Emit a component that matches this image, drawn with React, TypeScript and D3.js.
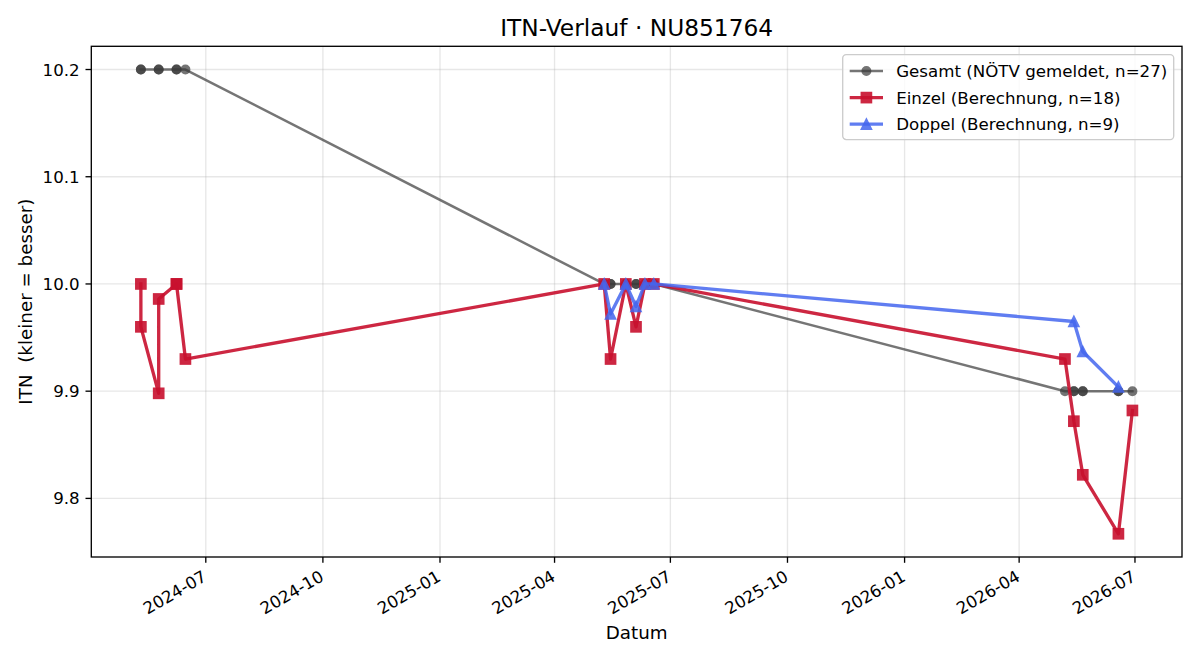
import React, { useEffect, useRef } from 'react';
import * as d3 from 'd3';

// Match dates and ITN values per series
const gesamtDates = [
  '2024-05-11', '2024-05-11', '2024-05-25', '2024-05-25', '2024-06-08', '2024-06-08', '2024-06-15',
  '2025-05-10', '2025-05-10', '2025-05-15', '2025-05-15', '2025-05-27', '2025-05-27',
  '2025-06-04', '2025-06-04', '2025-06-11', '2025-06-11', '2025-06-18', '2025-06-18',
  '2026-05-07', '2026-05-14', '2026-05-14', '2026-05-21', '2026-05-21', '2026-06-18', '2026-06-18', '2026-06-29',
];
const gesamtValues = [
  10.2, 10.2, 10.2, 10.2, 10.2, 10.2, 10.2,
  10.0, 10.0, 10.0, 10.0, 10.0, 10.0, 10.0, 10.0, 10.0, 10.0, 10.0, 10.0,
  9.9, 9.9, 9.9, 9.9, 9.9, 9.9, 9.9, 9.9,
];

const einzelDates = [
  '2024-05-11', '2024-05-11', '2024-05-25', '2024-05-25', '2024-06-08', '2024-06-08', '2024-06-15',
  '2025-05-10', '2025-05-15', '2025-05-27', '2025-06-04', '2025-06-11', '2025-06-18',
  '2026-05-07', '2026-05-14', '2026-05-21', '2026-06-18', '2026-06-29',
];
const einzelValues = [
  10.0, 9.96, 9.898, 9.986, 10.0, 10.0, 9.93,
  10.0, 9.93, 10.0, 9.96, 10.0, 10.0,
  9.93, 9.872, 9.822, 9.767, 9.882,
];

const doppelDates = [
  '2025-05-10', '2025-05-15', '2025-05-27', '2025-06-04', '2025-06-11', '2025-06-18',
  '2026-05-14', '2026-05-21', '2026-06-18',
];
const doppelValues = [10.0, 9.972, 10.0, 9.979, 10.0, 10.0, 9.965, 9.937, 9.904];

const seriesLabels = [
  'Gesamt (NÖTV gemeldet, n=27)',
  'Einzel (Berechnung, n=18)',
  'Doppel (Berechnung, n=9)',
];

type Pt = { d: Date; v: number };
type Marker = 'circle' | 'square' | 'triangle';

const FONT = '"DejaVu Sans", sans-serif';

export default function App() {
  const ref = useRef<SVGSVGElement | null>(null);

  useEffect(() => {
    const width = 1200;
    const height = 660;
    const margin = { top: 46.3, right: 18, bottom: 103, left: 91.3 };
    const innerW = width - margin.left - margin.right;
    const innerH = height - margin.top - margin.bottom;

    const parse = d3.utcParse('%Y-%m-%d');
    const toPts = (ds: string[], vs: number[]): Pt[] => ds.map((d, i) => ({ d: parse(d) as Date, v: vs[i] }));

    const series = [
      { label: seriesLabels[0], pts: toPts(gesamtDates, gesamtValues), color: '#3a3a3a', alpha: 0.7, lw: 2.5, marker: 'circle' as Marker, ms: 8.3 },
      { label: seriesLabels[1], pts: toPts(einzelDates, einzelValues), color: '#c8102e', alpha: 0.9, lw: 3.33, marker: 'square' as Marker, ms: 10 },
      { label: seriesLabels[2], pts: toPts(doppelDates, doppelValues), color: '#4466ee', alpha: 0.85, lw: 3.33, marker: 'triangle' as Marker, ms: 10 },
    ];

    const all = series.flatMap(s => s.pts);
    // 5% padding around the data, like matplotlib's autoscale
    const [t0, t1] = d3.extent(all, p => +p.d) as [number, number];
    const tPad = (t1 - t0) * 0.05;
    const [v0, v1] = d3.extent(all, p => p.v) as [number, number];
    const vPad = (v1 - v0) * 0.05;

    const x = d3.scaleUtc().domain([new Date(t0 - tPad), new Date(t1 + tPad)]).range([0, innerW]);
    const y = d3.scaleLinear().domain([v0 - vPad, v1 + vPad]).range([innerH, 0]);

    const svg = d3.select(ref.current);
    svg.selectAll('*').remove();

    svg.append('rect').attr('width', width).attr('height', height).attr('fill', '#fff');

    const g = svg.append('g').attr('transform', `translate(${margin.left},${margin.top})`);

    const xTicks = x.ticks(d3.utcMonth.every(3) as d3.TimeInterval);
    const yTicks = y.ticks(5);

    // grid
    g.append('g').selectAll('line').data(xTicks).enter().append('line')
      .attr('x1', d => x(d)).attr('x2', d => x(d)).attr('y1', 0).attr('y2', innerH)
      .attr('stroke', '#b0b0b0').attr('stroke-opacity', 0.3).attr('stroke-width', 1.33);
    g.append('g').selectAll('line').data(yTicks).enter().append('line')
      .attr('x1', 0).attr('x2', innerW).attr('y1', d => y(d)).attr('y2', d => y(d))
      .attr('stroke', '#b0b0b0').attr('stroke-opacity', 0.3).attr('stroke-width', 1.33);

    const line = d3.line<Pt>().x(p => x(p.d)).y(p => y(p.v));

    const drawMarker = (sel: d3.Selection<SVGGElement, unknown, null, undefined>, m: Marker, size: number, px: number, py: number, color: string, alpha: number) => {
      const h = size / 2;
      let el;
      if (m === 'circle') {
        el = sel.append('circle').attr('cx', px).attr('cy', py).attr('r', h);
      } else if (m === 'square') {
        el = sel.append('rect').attr('x', px - h).attr('y', py - h).attr('width', size).attr('height', size);
      } else {
        el = sel.append('path').attr('d', `M${px},${py - h}L${px - h},${py + h}L${px + h},${py + h}Z`);
      }
      el.attr('fill', color).attr('stroke', color).attr('stroke-width', 1.67)
        .attr('stroke-linejoin', 'miter').attr('opacity', alpha);
    };

    const plot = g.append('g');
    series.forEach(s => {
      const sg = plot.append('g');
      sg.append('path').datum(s.pts).attr('d', line)
        .attr('fill', 'none').attr('stroke', s.color).attr('stroke-width', s.lw)
        .attr('stroke-opacity', s.alpha).attr('stroke-linejoin', 'round').attr('stroke-linecap', 'square');
      s.pts.forEach(p => drawMarker(sg, s.marker, s.ms, x(p.d), y(p.v), s.color, s.alpha));
    });

    // frame
    g.append('rect').attr('width', innerW).attr('height', innerH)
      .attr('fill', 'none').attr('stroke', '#000').attr('stroke-width', 1.33);

    // x axis ticks and rotated date labels
    const xa = g.append('g').attr('transform', `translate(0,${innerH})`);
    xTicks.forEach(t => {
      const tx = x(t);
      xa.append('line').attr('x1', tx).attr('x2', tx).attr('y1', 0).attr('y2', 5.8)
        .attr('stroke', '#000').attr('stroke-width', 1.33);
      xa.append('text')
        .attr('transform', `translate(${tx + 2},${23}) rotate(-30)`)
        .attr('text-anchor', 'end')
        .attr('font-family', FONT).attr('font-size', 16.67).attr('fill', '#000')
        .text(d3.utcFormat('%Y-%m')(t));
    });

    // y axis ticks and labels
    const ya = g.append('g');
    yTicks.forEach(t => {
      const ty = y(t);
      ya.append('line').attr('x1', -5.8).attr('x2', 0).attr('y1', ty).attr('y2', ty)
        .attr('stroke', '#000').attr('stroke-width', 1.33);
      ya.append('text')
        .attr('x', -11.6).attr('y', ty).attr('dy', '0.36em')
        .attr('text-anchor', 'end')
        .attr('font-family', FONT).attr('font-size', 16.67).attr('fill', '#000')
        .text(d3.format('.1f')(t));
    });

    // axis labels and title
    svg.append('text')
      .attr('x', margin.left + innerW / 2).attr('y', 639)
      .attr('text-anchor', 'middle').attr('font-family', FONT).attr('font-size', 18.3)
      .text('Datum');
    svg.append('text')
      .attr('transform', `translate(32,${margin.top + innerH / 2}) rotate(-90)`)
      .attr('text-anchor', 'middle').attr('font-family', FONT).attr('font-size', 18.3)
      .style('white-space', 'pre')
      .text('ITN  (kleiner = besser)');
    svg.append('text')
      .attr('x', margin.left + innerW / 2).attr('y', 36)
      .attr('text-anchor', 'middle').attr('font-family', FONT).attr('font-size', 23.3)
      .text('ITN-Verlauf · NU851764');

    // legend
    const lg = g.append('g').attr('transform', `translate(${innerW - 8.3 - 331},8.3)`);
    lg.append('rect').attr('width', 331).attr('height', 85).attr('rx', 3.5)
      .attr('fill', '#fff').attr('fill-opacity', 0.8).attr('stroke', '#cccccc').attr('stroke-width', 1.33);
    series.forEach((s, i) => {
      const cy = 16.5 + i * 26.5;
      const row = lg.append('g');
      row.append('line').attr('x1', 7).attr('x2', 40.3).attr('y1', cy).attr('y2', cy)
        .attr('stroke', s.color).attr('stroke-width', s.lw).attr('stroke-opacity', s.alpha);
      drawMarker(row, s.marker, s.ms, 23.7, cy, s.color, s.alpha);
      row.append('text').attr('x', 53.5).attr('y', cy).attr('dy', '0.36em')
        .attr('font-family', FONT).attr('font-size', 16.67).attr('fill', '#000')
        .text(s.label);
    });
  }, []);

  return (
    <svg ref={ref} width={1200} height={660}
      style={{ position: 'absolute', left: 0, top: 0, display: 'block' }} />
  );
}
